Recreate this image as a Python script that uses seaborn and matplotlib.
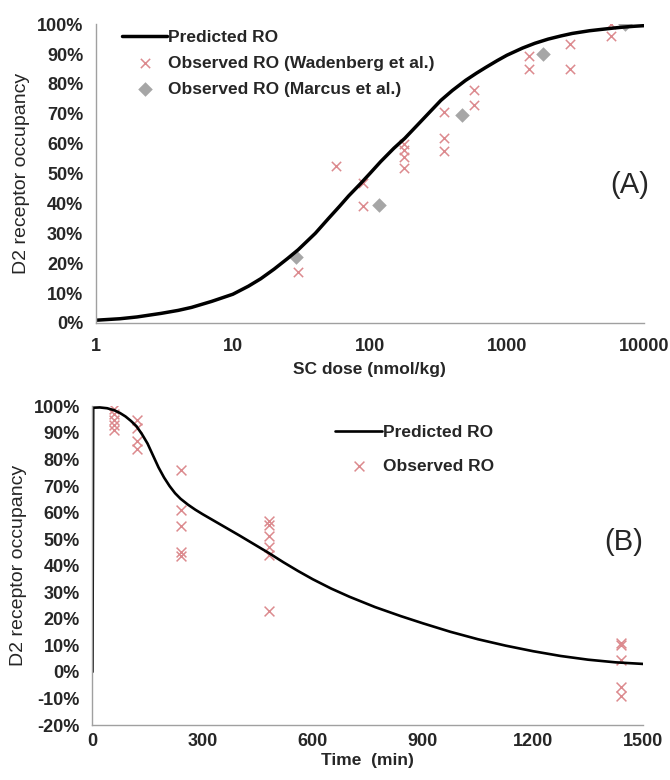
import numpy as np
import pandas as pd
import matplotlib
matplotlib.use("Agg")
import matplotlib.pyplot as plt
import matplotlib.ticker as mticker
import seaborn as sns

# Panel A: dose-response (SC dose, nmol/kg vs RO %)
pred_dose = [1, 1.5, 2, 3, 4, 5, 7, 10, 13, 16, 20, 25, 30, 40, 50, 60, 70, 85,
             100, 120, 150, 180, 220, 270, 330, 400, 500, 600, 700, 850, 1000,
             1300, 1600, 2000, 2500, 3000, 4000, 5000, 6000, 7000, 8500, 10000]
pred_ro_a = [0.9, 1.4, 2.0, 3.2, 4.2, 5.2, 7.2, 9.6, 12.3, 14.8, 18, 21.5, 24.5,
             30, 35, 39, 42.5, 46.5, 50, 54, 58.5, 61.8, 66, 70.3, 74.5, 77.8,
             81.2, 83.6, 85.5, 87.8, 89.6, 92, 93.6, 95, 96.1, 96.9, 97.8, 98.3,
             98.7, 99, 99.3, 99.5]

wad_dose = [30, 57, 89, 89, 177, 177, 177, 177, 349, 349, 349, 574, 574,
            1448, 1448, 2884, 2884, 5741, 5741]
wad_ro = [17, 52.5, 47, 39, 60, 58, 55.5, 52, 70.5, 62, 57.5, 78, 73,
          89.5, 85, 93.5, 85, 100, 96]

mar_dose = [29, 116, 467, 1841, 7267]
mar_ro = [22, 39.5, 69.5, 90, 100]

# Panel B: time course (min vs RO %)
pred_time = [0, 2, 20, 40, 60, 75, 90, 105, 120, 135, 150, 165, 180, 195, 210,
             225, 240, 260, 280, 300, 330, 360, 400, 440, 480, 520, 560, 600,
             650, 700, 770, 840, 900, 975, 1050, 1125, 1200, 1275, 1350, 1425, 1500]
pred_ro_b = [0, 99.5, 99.6, 99.3, 98.5, 97.5, 96.2, 94.5, 92.5, 89.5, 86, 81.5,
             77, 73.2, 70, 67.3, 65.2, 63, 61.1, 59.4, 57, 54.6, 51.4, 48.1,
             44.8, 41.3, 38, 34.9, 31.4, 28.3, 24.4, 21, 18.3, 15.1, 12.3, 9.9,
             7.8, 6, 4.6, 3.6, 3]

obs_time = [60, 60, 60, 60, 60, 120, 120, 120, 120, 240, 240, 240, 240, 240,
            480, 480, 480, 480, 480, 480, 1440, 1440, 1440, 1440, 1440]
obs_ro = [99, 97, 95, 93, 91, 95, 92, 87, 84, 76, 61, 55, 45, 43.5,
          57, 55.5, 51, 47, 44, 23, 11, 10, 4.5, -5.5, -9]

sns.set_style("white")
plt.rcParams['font.family'] = ['Liberation Sans', 'DejaVu Sans']

cross_col = "#dc8a8e"
diam_col = "#a6a6a6"
spine_col = "#a0a0a0"

fig = plt.figure(figsize=(6.7, 7.8), dpi=100)
ax1 = fig.add_axes([0.143, 0.586, 0.818, 0.383])
ax2 = fig.add_axes([0.138, 0.0705, 0.822, 0.4085])


def style_axes(ax, xpad):
    for s in ["top", "right"]:
        ax.spines[s].set_visible(False)
    for s in ["left", "bottom"]:
        ax.spines[s].set_color(spine_col)
        ax.spines[s].set_linewidth(1.0)
    ax.tick_params(axis="both", which="major", direction="out", length=5,
                   width=1, color=spine_col, labelsize=13, pad=4)
    ax.tick_params(axis="x", pad=xpad)
    ax.tick_params(axis="both", which="minor", length=0)
    for lab in ax.get_xticklabels() + ax.get_yticklabels():
        lab.set_fontweight("bold")
    ax.yaxis.set_major_formatter(mticker.FuncFormatter(lambda v, p: f"{v:.0f}%"))


# ---- Panel A
df_pred_a = pd.DataFrame({"dose": pred_dose, "ro": pred_ro_a})
df_wad = pd.DataFrame({"dose": wad_dose, "ro": wad_ro})
df_mar = pd.DataFrame({"dose": mar_dose, "ro": mar_ro})

sns.lineplot(data=df_pred_a, x="dose", y="ro", ax=ax1, color="black",
             linewidth=2.5, label="Predicted RO")
sns.scatterplot(data=df_wad, x="dose", y="ro", ax=ax1, marker="x",
                color=cross_col, s=45, linewidth=1.1, label="Observed RO (Wadenberg et al.)")
sns.scatterplot(data=df_mar, x="dose", y="ro", ax=ax1, marker="D",
                color=diam_col, s=55, linewidth=0, label="Observed RO (Marcus et al.)")
ax1.set_xscale("log")
ax1.set_xlim(1, 10000)
ax1.set_ylim(0, 100)
ax1.set_yticks(np.arange(0, 101, 10))
ax1.xaxis.set_major_locator(mticker.FixedLocator([1, 10, 100, 1000, 10000]))
ax1.xaxis.set_major_formatter(mticker.FuncFormatter(lambda v, p: f"{v:.0f}"))
ax1.xaxis.set_minor_locator(mticker.NullLocator())
style_axes(ax1, 6)
ax1.set_xlabel("SC dose (nmol/kg)", fontsize=12.5, fontweight="bold", labelpad=5)
ax1.set_ylabel("D2 receptor occupancy", fontsize=14, labelpad=5)
ax1.text(0.974, 0.46, "(A)", transform=ax1.transAxes, fontsize=21,
         ha="center", va="center")
ax1.legend(loc="upper left", bbox_to_anchor=(0.035, 1.005), frameon=False,
           prop={"weight": "bold", "size": 12.5}, handlelength=2.6,
           handletextpad=0.05, labelspacing=0.62, borderaxespad=0)

# ---- Panel B
df_pred_b = pd.DataFrame({"time": pred_time, "ro": pred_ro_b})
df_obs = pd.DataFrame({"time": obs_time, "ro": obs_ro})

sns.lineplot(data=df_pred_b, x="time", y="ro", ax=ax2, color="black",
             linewidth=1.9, label="Predicted RO")
sns.scatterplot(data=df_obs, x="time", y="ro", ax=ax2, marker="x",
                color=cross_col, s=50, linewidth=1.1, label="Observed RO")
ax2.set_xlim(0, 1500)
ax2.set_ylim(-20, 100)
ax2.set_xticks([0, 300, 600, 900, 1200, 1500])
ax2.set_yticks(np.arange(-20, 101, 10))
style_axes(ax2, 1)
ax2.set_xlabel("Time  (min)", fontsize=12.5, fontweight="bold", labelpad=2)
ax2.set_ylabel("D2 receptor occupancy", fontsize=14, labelpad=5)
ax2.text(0.965, 0.575, "(B)", transform=ax2.transAxes, fontsize=21,
         ha="center", va="center")
ax2.legend(loc="upper left", bbox_to_anchor=(0.428, 0.963), frameon=False,
           prop={"weight": "bold", "size": 12.5}, handlelength=2.7,
           handletextpad=0.05, labelspacing=1.05, borderaxespad=0)

fig.savefig("out.png", dpi=100)
